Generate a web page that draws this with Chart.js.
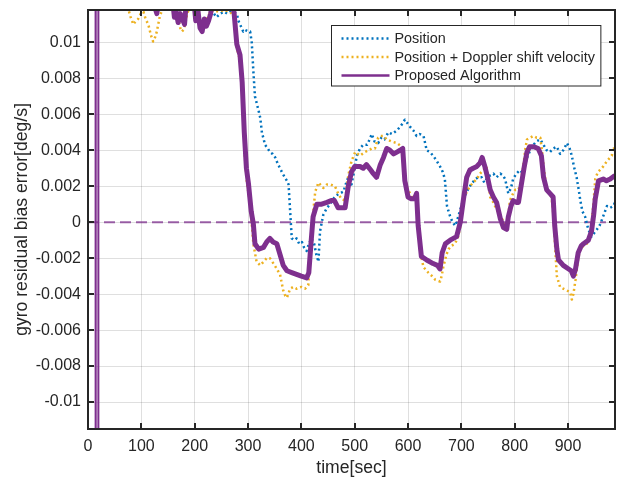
<!DOCTYPE html>
<html>
<head>
<meta charset="utf-8">
<script src="https://cdn.jsdelivr.net/npm/chart.js@4.4.0/dist/chart.umd.min.js"></script>
<style>
  html, body { margin: 0; padding: 0; background: #fff; }
  #wrap { width: 620px; height: 480px; }
</style>
</head>
<body>
<div id="wrap"><canvas id="biasChart" width="620" height="480"></canvas></div>
<script>
// Axis ticks
const timeTicks = [0, 100, 200, 300, 400, 500, 600, 700, 800, 900];
const biasTicks = [-0.01, -0.008, -0.006, -0.004, -0.002, 0, 0.002, 0.004, 0.006, 0.008, 0.01];

// Position only
const posTime = [200, 226, 230, 236, 241, 248, 255, 261, 266, 272, 279, 282, 288, 291, 294, 301, 304, 307, 310, 313,
  319, 323, 326, 332, 337, 341, 346, 351, 355, 360, 365, 369, 373, 376, 379, 382, 387, 391, 396, 401,
  405, 410, 414, 419, 424, 428, 432, 435, 441, 448, 454, 460, 466, 472, 479, 483, 488, 494, 498, 501,
  504, 510, 516, 523, 528, 532, 537, 544, 550, 556, 563, 570, 579, 585, 590, 594, 599, 604, 610, 616,
  622, 629, 635, 641, 647, 654, 660, 665, 669, 673, 678, 682, 688, 691, 694, 699, 704, 710, 716, 721,
  726, 732, 738, 743, 747, 754, 760, 766, 773, 778, 782, 788, 793, 797, 803, 810, 816, 822, 829, 835,
  841, 848, 854, 860, 866, 872, 879, 885, 891, 898, 903, 907, 911, 916, 920, 923, 927, 932, 938, 944,
  949, 954, 959, 963, 968, 973, 979, 985, 988];
const posVal = [0.013, 0.0125, 0.0117, 0.0116, 0.0114, 0.0116, 0.0117, 0.0116, 0.0117, 0.0117, 0.0116, 0.0112, 0.0108, 0.0106, 0.0107, 0.0106, 0.0106, 0.0100, 0.0084, 0.0070,
  0.0063, 0.0058, 0.0050, 0.0043, 0.0041, 0.0039, 0.0038, 0.0036, 0.0033, 0.0030, 0.0027, 0.0025, 0.0023, 0.0021, 0.0006, -0.0009, -0.0010, -0.0009, -0.0012, -0.0011,
  -0.0014, -0.0016, -0.0012, -0.0009, -0.0012, -0.0018, -0.0022, -0.0005, 0.0004, 0.0008, 0.0010, 0.0013, 0.0015, 0.0016, 0.0017, 0.0021, 0.0025, 0.0021, 0.0027, 0.0032,
  0.0037, 0.0041, 0.0043, 0.0043, 0.0046, 0.0049, 0.0045, 0.0044, 0.0047, 0.0046, 0.0050, 0.0049, 0.0051, 0.0053, 0.0055, 0.0057, 0.0055, 0.0053, 0.0051, 0.0048,
  0.0049, 0.0048, 0.0040, 0.0039, 0.0037, 0.0034, 0.0031, 0.0028, 0.0024, 0.0009, 0.0004, 0.0001, -0.0002, 0.0000, 0.0003, 0.0008, 0.0013, 0.0017, 0.0020, 0.0022,
  0.0024, 0.0025, 0.0025, 0.0022, 0.0024, 0.0026, 0.0027, 0.0025, 0.0027, 0.0026, 0.0024, 0.0016, 0.0019, 0.0024, 0.0027, 0.0029, 0.0027, 0.0035, 0.0040, 0.0043,
  0.0045, 0.0046, 0.0043, 0.0040, 0.0039, 0.0041, 0.0042, 0.0038, 0.0040, 0.0044, 0.0041, 0.0037, 0.0031, 0.0025, 0.0018, 0.0012, 0.0006, 0.0003, -0.0004, -0.0008,
  -0.0006, -0.0004, -0.0002, 0.0001, 0.0005, 0.0009, 0.0008, 0.0009, 0.0011];

// Position + Doppler shift velocity
const dopTime = [20, 70, 76, 80, 85, 90, 94, 99, 104, 108, 113, 118, 122, 126, 129, 135, 141, 150, 160, 165,
  169, 173, 176, 179, 182, 186, 190, 198, 204, 209, 213, 218, 222, 228, 235, 245, 255, 266, 272, 276,
  279, 285, 288, 291, 294, 298, 304, 310, 316, 323, 329, 335, 341, 350, 356, 360, 366, 370, 373, 379,
  385, 391, 400, 407, 413, 416, 419, 423, 426, 432, 441, 448, 454, 463, 469, 475, 482, 488, 494, 501,
  510, 519, 526, 532, 538, 544, 548, 554, 560, 568, 579, 588, 591, 597, 607, 616, 619, 623, 629, 638,
  645, 651, 660, 663, 666, 672, 676, 682, 688, 694, 698, 704, 710, 716, 722, 729, 735, 741, 747, 750,
  754, 760, 766, 773, 779, 785, 788, 791, 797, 801, 807, 811, 816, 820, 823, 829, 835, 841, 848, 851,
  854, 860, 866, 869, 873, 876, 879, 885, 891, 898, 904, 907, 910, 914, 919, 923, 929, 935, 941, 944,
  948, 951, 956, 960, 966, 973, 979, 982, 985, 988];
const dopVal = [0.013, 0.013, 0.0118, 0.0114, 0.0110, 0.0112, 0.0113, 0.0116, 0.0117, 0.0113, 0.0110, 0.0104, 0.01005, 0.0103, 0.0106, 0.0115, 0.0119, 0.0121, 0.0120, 0.0117,
  0.0113, 0.0108, 0.0106, 0.0107, 0.0110, 0.0116, 0.0119, 0.0118, 0.0117, 0.0111, 0.0108, 0.0109, 0.0113, 0.0116, 0.0118, 0.0117, 0.0118, 0.0117, 0.0115, 0.0113,
  0.0097, 0.0090, 0.0084, 0.0060, 0.0037, 0.0022, 0.0010, -0.0012, -0.0022, -0.0024, -0.0022, -0.0020, -0.0020, -0.0024, -0.0027, -0.0029, -0.0038, -0.0041, -0.0042, -0.0037,
  -0.0036, -0.0037, -0.0036, -0.0037, -0.0035, -0.0020, -0.0009, 0.0008, 0.0017, 0.0022, 0.0019, 0.0021, 0.0021, 0.0020, 0.0016, 0.0013, 0.0012, 0.0026, 0.0034, 0.0039,
  0.0037, 0.0039, 0.0040, 0.0041, 0.0041, 0.0047, 0.0048, 0.0048, 0.0046, 0.0045, 0.0044, 0.0042, 0.0035, 0.0020, 0.0014, 0.0012, -0.0002, -0.0017, -0.0025, -0.0028,
  -0.0030, -0.0032, -0.0033, -0.0030, -0.0025, -0.0018, -0.0015, -0.0013, -0.0012, -0.0008, -0.0002, 0.0012, 0.0017, 0.0020, 0.0022, 0.0024, 0.0027, 0.0029, 0.0031, 0.0025,
  0.0014, 0.0011, 0.0007, 0.0004, 0.0000, -0.0005, 0.0004, 0.0012, 0.0016, 0.0018, 0.0018, 0.0022, 0.0031, 0.0041, 0.0046, 0.0047, 0.0048, 0.0047, 0.0047, 0.0040,
  0.0031, 0.0018, 0.0015, 0.0014, 0.0003, -0.0015, -0.0030, -0.0036, -0.0037, -0.0038, -0.0039, -0.0043, -0.0040, -0.0032, -0.0020, -0.0015, -0.0013, -0.0012, -0.0007, -0.0002,
  0.0012, 0.0024, 0.0028, 0.0029, 0.0031, 0.0034, 0.0036, 0.0037, 0.0042, 0.0040];

// Proposed algorithm (start-up transient around t = 14..20 s runs off both ends of the axis)
const propTime = [14, 14.5, 19, 19.3, 19.6, 22, 120, 126, 129, 132, 158, 162, 165, 169, 173, 177, 181, 185, 198, 202,
  206, 210, 214, 218, 222, 226, 230, 234, 270, 274, 279, 285, 289, 293, 297, 301, 306, 310, 313, 320,
  329, 335, 341, 347, 354, 360, 366, 373, 382, 391, 400, 410, 414, 418, 422, 429, 438, 448, 456, 462,
  469, 476, 482, 488, 494, 500, 510, 516, 522, 530, 535, 541, 548, 554, 560, 566, 573, 579, 585, 590,
  594, 600, 606, 612, 616, 619, 625, 635, 647, 655, 660, 664, 670, 679, 685, 691, 698, 704, 710, 716,
  722, 729, 735, 739, 744, 749, 754, 760, 766, 773, 779, 785, 788, 793, 797, 803, 807, 813, 818, 823,
  828, 835, 844, 850, 854, 860, 866, 872, 875, 879, 882, 891, 901, 906, 910, 914, 919, 925, 929, 938,
  944, 948, 951, 957, 966, 972, 979, 988];
const propVal = [0.06, -0.06, -0.06, 0.0009, 0.06, 0.0125, 0.0125, 0.0119, 0.0116, 0.0122, 0.0125, 0.0114, 0.0117, 0.0111, 0.0116, 0.0113, 0.0110, 0.0125, 0.0125, 0.0112,
  0.0118, 0.0108, 0.0106, 0.0113, 0.0109, 0.0112, 0.0116, 0.0125, 0.0125, 0.0116, 0.0099, 0.0093, 0.0078, 0.0050, 0.0030, 0.0021, 0.0006, -0.0001, -0.0012, -0.0015,
  -0.0014, -0.0011, -0.0009, -0.0011, -0.0012, -0.0018, -0.0024, -0.0027, -0.0028, -0.0029, -0.0030, -0.0031, -0.0028, -0.0012, 0.0003, 0.0010, 0.0010, 0.0011, 0.0012, 0.0012,
  0.0008, 0.0008, 0.0008, 0.0020, 0.0028, 0.0031, 0.0031, 0.0030, 0.0032, 0.0029, 0.0027, 0.0025, 0.0032, 0.0036, 0.0041, 0.0040, 0.0038, 0.0039, 0.0040, 0.0041,
  0.0023, 0.0014, 0.0013, 0.0013, 0.0016, -0.0002, -0.0019, -0.0021, -0.0023, -0.0024, -0.0026, -0.0017, -0.0012, -0.0010, -0.0009, -0.0008, 0.0000, 0.0013, 0.0025, 0.0029,
  0.0030, 0.0031, 0.0033, 0.0036, 0.0031, 0.0025, 0.0018, 0.0014, 0.0011, 0.0002, -0.0003, -0.0004, 0.0003, 0.0009, 0.0012, 0.0011, 0.0011, 0.0022, 0.0031, 0.0039,
  0.0042, 0.0042, 0.0041, 0.0037, 0.0025, 0.0018, 0.0016, 0.0014, -0.0002, -0.0015, -0.0021, -0.0024, -0.0026, -0.0027, -0.0030, -0.0026, -0.0017, -0.0013, -0.0012, -0.0010,
  -0.0005, 0.0004, 0.0013, 0.0023, 0.0024, 0.0023, 0.0024, 0.0026];

// Zero reference line
const zeroTime = [0, 971];
const zeroVal = [0, 0];

const FONT = "'Liberation Sans', Arial, Helvetica, sans-serif";
const INK = '#262626';

function pairs(xs, ys) {
  return xs.map((x, i) => ({ x: x, y: ys[i] }));
}

// frame, inward tick marks and the legend box drawn over the data
const axesBox = {
  id: 'axesBox',
  afterDatasetsDraw(chart) {
    const { ctx, chartArea: a, scales: { x, y } } = chart;
    ctx.save();
    ctx.strokeStyle = INK;
    ctx.lineWidth = 2;
    ctx.beginPath();
    timeTicks.forEach(t => {
      const px = Math.round(x.getPixelForValue(t));
      ctx.moveTo(px, a.bottom); ctx.lineTo(px, a.bottom - 6);
      ctx.moveTo(px, a.top); ctx.lineTo(px, a.top + 6);
    });
    biasTicks.forEach(v => {
      const py = Math.round(y.getPixelForValue(v));
      ctx.moveTo(a.left, py); ctx.lineTo(a.left + 6, py);
      ctx.moveTo(a.right, py); ctx.lineTo(a.right - 6, py);
    });
    ctx.stroke();
    ctx.strokeRect(a.left, a.top, a.right - a.left, a.bottom - a.top);

    // legend
    const items = chart.data.datasets.filter(d => d.inLegend)
      .sort((p, q) => p.legendRank - q.legendRank);
    ctx.font = '14.4px ' + FONT;
    const textW = Math.max(...items.map(d => ctx.measureText(d.label).width));
    const boxW = 10 + 48 + 5 + textW + 6;
    const boxH = 60.5;
    const bx = Math.round(a.right - 15 - boxW) + 0.5;
    const by = a.top + 15.5;
    ctx.fillStyle = '#fff';
    ctx.fillRect(bx, by, boxW, boxH);
    ctx.lineWidth = 1;
    ctx.strokeStyle = INK;
    ctx.strokeRect(bx, by, boxW, boxH);
    items.forEach((d, i) => {
      const ry = by + 13 + i * 18.5;
      ctx.beginPath();
      ctx.strokeStyle = d.borderColor;
      ctx.lineWidth = d.legendWidth;
      ctx.setLineDash(d.borderDash || []);
      ctx.moveTo(bx + 10, ry);
      ctx.lineTo(bx + 58, ry);
      ctx.stroke();
      ctx.setLineDash([]);
      ctx.fillStyle = INK;
      ctx.textBaseline = 'middle';
      ctx.textAlign = 'left';
      ctx.fillText(d.label, bx + 63, ry + 1);
    });
    ctx.restore();
  }
};

const ctx = document.getElementById('biasChart').getContext('2d');
new Chart(ctx, {
  type: 'line',
  data: {
    datasets: [
      {
        label: 'Proposed Algorithm',
        data: pairs(propTime, propVal),
        borderColor: '#7E2F8E',
        borderWidth: 5,
        legendWidth: 2.5,
        order: 0,
        inLegend: true,
        legendRank: 2,
        segment: {
          // the start-up spikes are thin strokes
          borderWidth: c => (c.p1.parsed.x < 21 ? 2 : 5)
        }
      },
      {
        label: 'Position + Doppler shift velocity',
        data: pairs(dopTime, dopVal),
        borderColor: '#EDB120',
        borderWidth: 2.5,
        legendWidth: 2.5,
        borderDash: [2, 3],
        order: 1,
        inLegend: true,
        legendRank: 1
      },
      {
        label: 'Position',
        data: pairs(posTime, posVal),
        borderColor: '#0072BD',
        borderWidth: 2.5,
        legendWidth: 2.5,
        borderDash: [2, 3],
        order: 2,
        inLegend: true,
        legendRank: 0
      },
      {
        label: 'zero',
        data: pairs(zeroTime, zeroVal),
        borderColor: 'rgba(126,47,142,0.75)',
        borderWidth: 2,
        borderDash: [11, 5],
        order: 3,
        inLegend: false
      }
    ]
  },
  options: {
    responsive: false,
    animation: false,
    parsing: false,
    clip: 0,
    layout: { padding: { top: 10, right: 5, left: 0, bottom: 0 } },
    elements: {
      point: { radius: 0, hoverRadius: 0 },
      line: { tension: 0, fill: false, borderCapStyle: 'butt', borderJoinStyle: 'round' }
    },
    plugins: {
      legend: { display: false },
      tooltip: { enabled: false }
    },
    scales: {
      x: {
        type: 'linear',
        min: 0,
        max: 988,
        afterFit: s => { s.height = 51; s.paddingLeft = 0; s.paddingRight = 0; },
        afterBuildTicks: s => { s.ticks = timeTicks.map(v => ({ value: v })); },
        grid: { color: 'rgba(38,38,38,0.15)', lineWidth: 1, drawTicks: false },
        border: { display: false },
        ticks: {
          color: INK,
          padding: 8,
          maxRotation: 0,
          font: { family: FONT, size: 16 },
          callback: v => String(v)
        },
        title: {
          display: true,
          text: 'time[sec]',
          color: INK,
          font: { family: FONT, size: 17.6 },
          padding: { top: 0, bottom: 1.5 }
        }
      },
      y: {
        type: 'linear',
        min: -0.0115,
        max: 0.0118,
        afterFit: s => { s.width = 88; s.paddingTop = 0; s.paddingBottom = 0; },
        afterBuildTicks: s => { s.ticks = biasTicks.map(v => ({ value: v })); },
        grid: { color: 'rgba(38,38,38,0.15)', lineWidth: 1, drawTicks: false },
        border: { display: false },
        ticks: {
          color: INK,
          padding: 7,
          font: { family: FONT, size: 16 },
          callback: v => String(+v.toFixed(4))
        },
        title: {
          display: true,
          text: 'gyro residual bias error[deg/s]',
          color: INK,
          font: { family: FONT, size: 17.6 },
          padding: { top: 11.5, bottom: 0 }
        }
      }
    }
  },
  plugins: [axesBox]
});
</script>
</body>
</html>
